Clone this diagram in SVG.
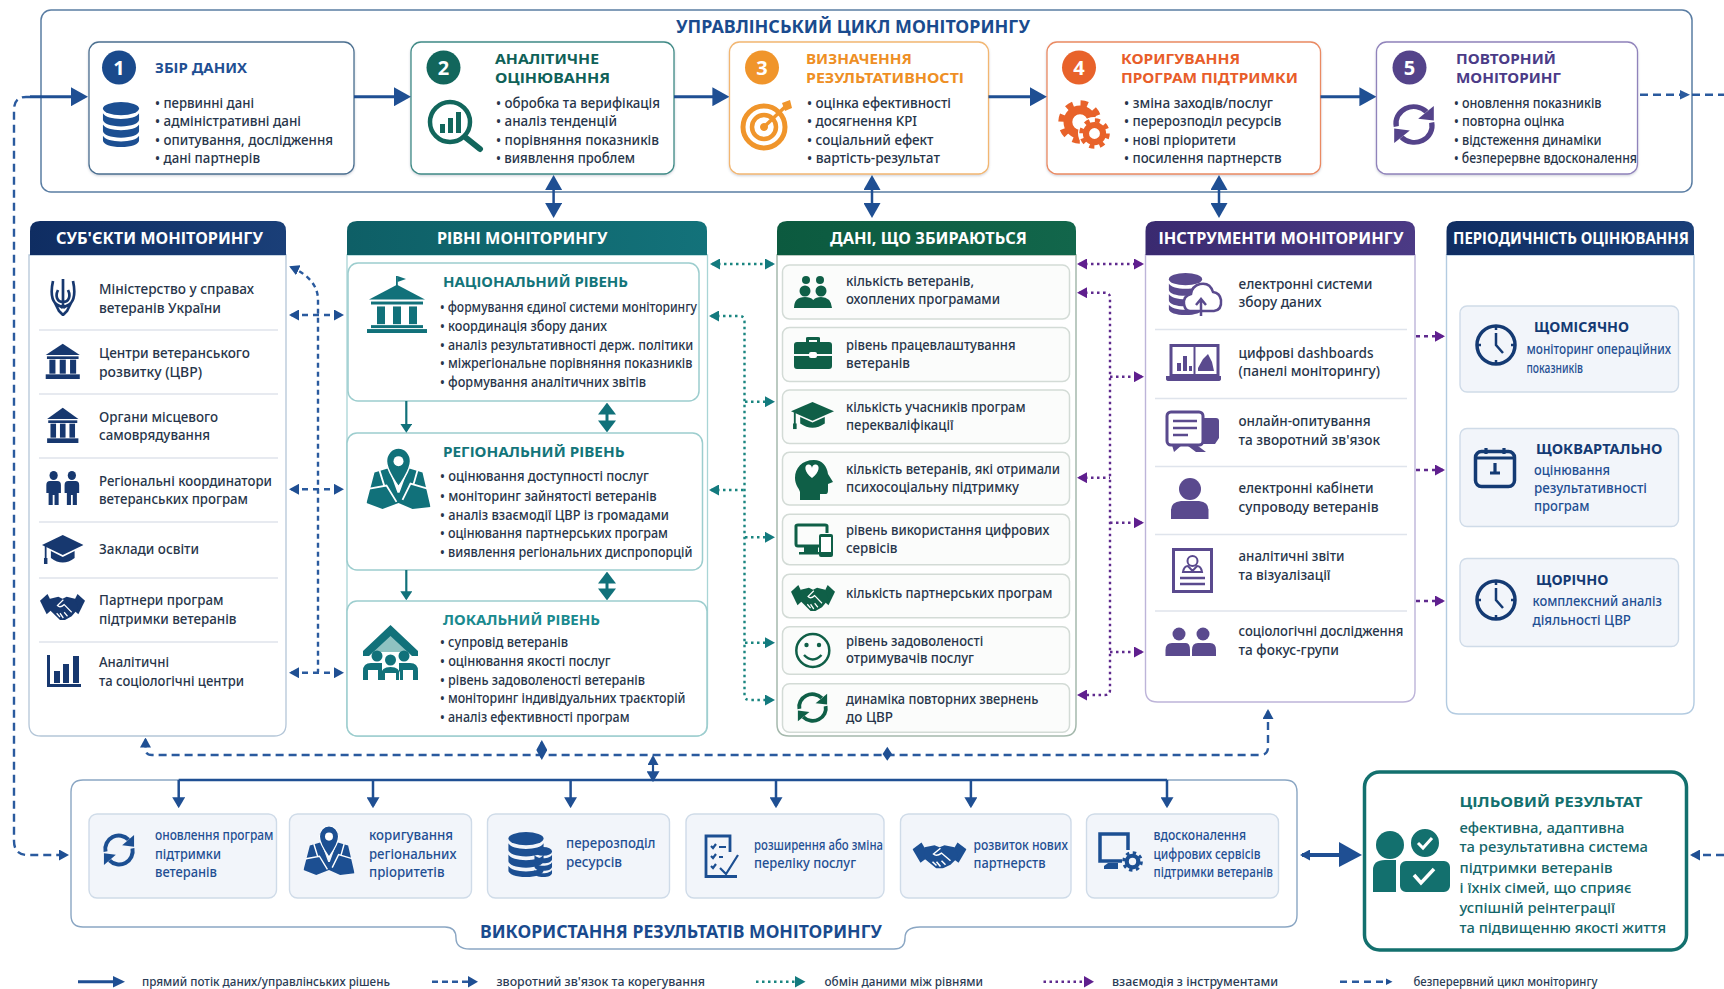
<svg xmlns="http://www.w3.org/2000/svg" width="1724" height="989" viewBox="0 0 1724 989">
<style>
text{font-family:"Noto Sans","Open Sans","DejaVu Sans",sans-serif;font-size:13.5px;font-weight:500;fill:#27354a}
.h{font-size:16px;font-weight:700;fill:#fff}
.st{font-size:15px;font-weight:700}
.n{font-size:20px;font-weight:700;fill:#fff;text-anchor:middle}
.bl{font-size:13.5px;fill:#1f4f93}
.lg{font-size:12px;fill:#2b3c55}
.tt{font-size:17px;font-weight:700;fill:#1a4b8e}
.box{fill:#fff;stroke-width:1.3}
.card{fill:#f2f5fa;stroke:#cfdbe8;stroke-width:1.4}
.gc{fill:#fbfcfb;stroke:#d3dbd6;stroke-width:1.5}
.div{stroke:#dfe4ec;stroke-width:1.5;fill:none}
.main{stroke:#1f4f93;stroke-width:3;fill:none;marker-end:url(#mMain)}
.dbl{stroke:#1f4f93;stroke-width:2.5;fill:none;marker-start:url(#mV);marker-end:url(#mV)}
.dash{stroke:#2a5a9e;stroke-width:2.4;fill:none;stroke-dasharray:8 5}
.teal{stroke:#1a8580;stroke-width:2.4;fill:none;stroke-dasharray:2.5 3.5}
.pur{stroke:#5f2a8e;stroke-width:2.4;fill:none;stroke-dasharray:2.5 3.5}
.tl{stroke:#11717a;stroke-width:2.2;fill:none}
</style>
<defs>
<linearGradient id="gA" x1="0" y1="0" x2="1" y2="0"><stop offset="0" stop-color="#0f2d62"/><stop offset="1" stop-color="#1a3f78"/></linearGradient>
<linearGradient id="gB" x1="0" y1="0" x2="1" y2="0"><stop offset="0" stop-color="#0e5f66"/><stop offset="1" stop-color="#13727a"/></linearGradient>
<linearGradient id="gC" x1="0" y1="0" x2="1" y2="0"><stop offset="0" stop-color="#0c5a3f"/><stop offset="1" stop-color="#12664b"/></linearGradient>
<linearGradient id="gD" x1="0" y1="0" x2="1" y2="0"><stop offset="0" stop-color="#3a2a70"/><stop offset="1" stop-color="#4b3a85"/></linearGradient>
<filter id="sh" x="-5%" y="-5%" width="110%" height="112%"><feDropShadow dx="0" dy="1.2" stdDeviation="1.2" flood-color="#51607a" flood-opacity=".28"/></filter>
<marker id="mMain" viewBox="0 0 10 10" markerUnits="userSpaceOnUse" markerWidth="17" markerHeight="19" refX="8" refY="5" orient="auto-start-reverse" preserveAspectRatio="none"><path d="M0 0L10 5L0 10z" fill="#1f4f93"/></marker>
<marker id="mV" viewBox="0 0 10 10" markerUnits="userSpaceOnUse" markerWidth="15" markerHeight="17" refX="8" refY="5" orient="auto-start-reverse" preserveAspectRatio="none"><path d="M0 0L10 5L0 10z" fill="#1f4f93"/></marker>
<marker id="mT" viewBox="0 0 10 10" markerUnits="userSpaceOnUse" markerWidth="11" markerHeight="13" refX="8" refY="5" orient="auto-start-reverse" preserveAspectRatio="none"><path d="M0 0L10 5L0 10z" fill="#1f4f93"/></marker>
<marker id="mD" viewBox="0 0 10 10" markerUnits="userSpaceOnUse" markerWidth="10" markerHeight="11" refX="8" refY="5" orient="auto-start-reverse" preserveAspectRatio="none"><path d="M0 0L10 5L0 10z" fill="#1f4f93"/></marker>
<marker id="mTe" viewBox="0 0 10 10" markerUnits="userSpaceOnUse" markerWidth="10" markerHeight="11" refX="8" refY="5" orient="auto-start-reverse" preserveAspectRatio="none"><path d="M0 0L10 5L0 10z" fill="#137a7e"/></marker>
<marker id="mP" viewBox="0 0 10 10" markerUnits="userSpaceOnUse" markerWidth="10" markerHeight="11" refX="8" refY="5" orient="auto-start-reverse" preserveAspectRatio="none"><path d="M0 0L10 5L0 10z" fill="#5f1f8e"/></marker>
<marker id="mTl" viewBox="0 0 10 10" markerUnits="userSpaceOnUse" markerWidth="9" markerHeight="12" refX="8" refY="5" orient="auto-start-reverse" preserveAspectRatio="none"><path d="M0 0L10 5L0 10z" fill="#11717a"/></marker>
<marker id="mTb" viewBox="0 0 10 10" markerUnits="userSpaceOnUse" markerWidth="12" markerHeight="18" refX="8" refY="5" orient="auto-start-reverse" preserveAspectRatio="none"><path d="M0 0L10 5L0 10z" fill="#11717a"/></marker>

<symbol id="db" viewBox="0 0 40 48" preserveAspectRatio="none"><g fill="currentColor"><ellipse cx="20" cy="7" rx="19" ry="7"/><path d="M1 12c2 4 10 6 19 6s17-2 19-6v7c0 4-8 7-19 7S1 23 1 19z"/><path d="M1 24c2 4 10 6 19 6s17-2 19-6v7c0 4-8 7-19 7S1 35 1 31z"/><path d="M1 36c2 4 10 6 19 6s17-2 19-6v5c0 4-8 7-19 7S1 45 1 41z"/></g></symbol>
<symbol id="cycle" viewBox="0 0 48 48" preserveAspectRatio="none"><path d="M7 26A17 17 0 0 1 36 11" fill="none" stroke="currentColor" stroke-width="5"/><polygon points="43,5 43,20 28,18" fill="currentColor"/><path d="M41 22A17 17 0 0 1 12 37" fill="none" stroke="currentColor" stroke-width="5"/><polygon points="5,43 5,28 20,30" fill="currentColor"/></symbol>
<symbol id="bank" viewBox="0 0 60 58" preserveAspectRatio="none"><g fill="currentColor"><rect x="29" y="0" width="1.8" height="11"/><polygon points="30.5,0 39,3 30.5,6"/><polygon points="30,9 58,24 2,24"/><rect x="4" y="26" width="52" height="3"/><rect x="10" y="31" width="8" height="18"/><rect x="26" y="31" width="8" height="18"/><rect x="42" y="31" width="8" height="18"/><rect x="4" y="50" width="52" height="3"/><rect x="0" y="54" width="60" height="4"/></g></symbol>
<symbol id="bank0" viewBox="0 4 60 54" preserveAspectRatio="none"><g fill="currentColor"><polygon points="30,5 58,22 2,22"/><rect x="4" y="24" width="52" height="4"/><rect x="8" y="29" width="10" height="21"/><rect x="25" y="29" width="10" height="21"/><rect x="42" y="29" width="10" height="21"/><rect x="2" y="51" width="56" height="7"/></g></symbol>
<symbol id="trident" viewBox="0 0 26 38" preserveAspectRatio="none"><g fill="none" stroke="currentColor" stroke-width="2.700"><path d="M13 1V30M3 3C1 12 1 20 5 25C8 28 11 28 13 30M23 3C25 12 25 20 21 25C18 28 15 28 13 30M8 12C5 18 7 24 13 24M18 12C21 18 19 24 13 24M5 25L9 33L13 37L17 33L21 25"/></g></symbol>
<symbol id="men" viewBox="0 0 40 34" preserveAspectRatio="none"><g fill="currentColor"><circle cx="10" cy="4.5" r="4.5"/><circle cx="30" cy="4.5" r="4.5"/><path d="M2 22V14Q2 10 6 10H14Q18 10 18 14V22H15.5V34H11V24H9V34H4.5V22z"/><path d="M22 22V14Q22 10 26 10H34Q38 10 38 14V22H35.500V34H31V24H29V34H24.500V22z"/></g></symbol>
<symbol id="cap" viewBox="0 0 42 30" preserveAspectRatio="none"><g fill="currentColor"><polygon points="21,0 42,10 21,20 0,10"/><path d="M9 16L21 22L33 16V23Q21 32 9 23z"/><rect x="2.800" y="11" width="1.800" height="13"/><rect x="2" y="23" width="3.500" height="6"/></g></symbol>
<symbol id="hands" viewBox="0 0 54 28" preserveAspectRatio="none"><g fill="currentColor"><polygon points="0,8 9,1 17,15 8,22"/><polygon points="54,8 45,1 37,15 46,22"/><path d="M12 6L22 4L27 6L32 4L42 6L46 16L38 24L30 28L24 28L12 18z"/></g><path d="M28 7L21 13Q24 16 29 12L38 20M24 25l-4-4M28 26l-4-5M33 24l-4-4" fill="none" stroke="#fff" stroke-width="1.500"/></symbol>
<symbol id="map" viewBox="0 0 64 60" preserveAspectRatio="none"><path d="M8 24L22 20L31 44H33L42 20L56 24L64 58L46 60L32 54L16 60L0 54z" fill="currentColor"/><path d="M3 40L20 37L30 53M61 40L44 35L36 51M13 22L18 38M51 22L47 36" fill="none" stroke="#fff" stroke-width="1.800"/><path d="M32 0C25 0 20 6 20 13C20 22 32 38 32 38C32 38 44 22 44 13C44 6 39 0 32 0z" fill="currentColor" stroke="#fff" stroke-width="1.500"/><circle cx="32" cy="13" r="5" fill="#fff"/></symbol>
<symbol id="gear" viewBox="0 0 40 40" preserveAspectRatio="none"><circle cx="20" cy="20" r="11" fill="none" stroke="currentColor" stroke-width="8"/><circle cx="20" cy="20" r="17" fill="none" stroke="currentColor" stroke-width="5.500" stroke-dasharray="6.500 6.850"/></symbol>
<symbol id="clock" viewBox="0 0 42 42" preserveAspectRatio="none"><circle cx="21" cy="21" r="19" fill="none" stroke="currentColor" stroke-width="3.500"/><path d="M21 9V21L28 29M21 2V6M21 36V40M2 21H6M36 21H40" fill="none" stroke="currentColor" stroke-width="2.500"/></symbol>
</defs>

<rect width="1724" height="989" fill="#fff"/>

<g id="cycle-frame">
<rect x="41" y="10" width="1651" height="182" rx="10" fill="#fff" stroke="#5a7da3" stroke-width="1.500"/>
<text class="tt" x="676" y="33" textLength="354" lengthAdjust="spacingAndGlyphs">УПРАВЛІНСЬКИЙ ЦИКЛ МОНІТОРИНГУ</text>
</g>

<g id="step-1">
<rect class="box" x="89" y="42" width="265" height="132" rx="10" stroke="#4b6f90" filter="url(#sh)"/>
<circle cx="119" cy="67.500" r="17" fill="#1a4a8c"/><text class="n" x="119" y="74.500">1</text>
<text class="st" x="155" y="72.500" style="fill:#1f4f93" textLength="92" lengthAdjust="spacingAndGlyphs">ЗБІР ДАНИХ</text>
<use href="#db" x="102" y="102" width="38" height="45" color="#1c4f92"/>
<text x="155" y="107.500" textLength="99" lengthAdjust="spacingAndGlyphs">• первинні дані</text>
<text x="155" y="126" textLength="146" lengthAdjust="spacingAndGlyphs">• адміністративні дані</text>
<text x="155" y="144.500" textLength="178" lengthAdjust="spacingAndGlyphs">• опитування, дослідження</text>
<text x="155" y="163" textLength="105" lengthAdjust="spacingAndGlyphs">• дані партнерів</text>
</g>

<g id="step-2">
<rect class="box" x="411" y="42" width="263" height="132" rx="10" stroke="#3f8a86" filter="url(#sh)"/>
<circle cx="443.500" cy="67.500" r="17" fill="#12665c"/><text class="n" x="443.500" y="74.500">2</text>
<text class="st" x="495" y="64" style="fill:#0f6158" textLength="104" lengthAdjust="spacingAndGlyphs">АНАЛІТИЧНЕ</text>
<text class="st" x="495" y="82.500" style="fill:#0f6158" textLength="115" lengthAdjust="spacingAndGlyphs">ОЦІНЮВАННЯ</text>
<g fill="#12665c"><circle cx="450" cy="122" r="20" fill="none" stroke="#12665c" stroke-width="4.500"/><rect x="440" y="124" width="5" height="9"/><rect x="448" y="118" width="5" height="15"/><rect x="456" y="112" width="5" height="21"/><path d="M465 137L480 149" stroke="#12665c" stroke-width="6" stroke-linecap="round"/></g>
<text x="496" y="107.500" textLength="164" lengthAdjust="spacingAndGlyphs">• обробка та верифікація</text>
<text x="496" y="126" textLength="121" lengthAdjust="spacingAndGlyphs">• аналіз тенденцій</text>
<text x="496" y="144.500" textLength="163" lengthAdjust="spacingAndGlyphs">• порівняння показників</text>
<text x="496" y="163" textLength="139" lengthAdjust="spacingAndGlyphs">• виявлення проблем</text>
</g>

<g id="step-3">
<rect class="box" x="729.500" y="42" width="259" height="132" rx="10" stroke="#f2b671" filter="url(#sh)"/>
<circle cx="762" cy="67.500" r="17" fill="#f0952b"/><text class="n" x="762" y="74.500">3</text>
<text class="st" x="806" y="64" style="fill:#ee8f25" textLength="106" lengthAdjust="spacingAndGlyphs">ВИЗНАЧЕННЯ</text>
<text class="st" x="806" y="82.500" style="fill:#ee8f25" textLength="158" lengthAdjust="spacingAndGlyphs">РЕЗУЛЬТАТИВНОСТІ</text>
<g fill="none" stroke="#f0952b"><circle cx="764" cy="127" r="21" stroke-width="5"/><circle cx="764" cy="127" r="12" stroke-width="4.500"/><circle cx="764" cy="127" r="3.500" fill="#f0952b"/><path d="M765 126L786 106" stroke-width="3.500"/></g><polygon points="782,103 790,100 792,108 785,111" fill="#f0952b"/>
<text x="807" y="107.500" textLength="144" lengthAdjust="spacingAndGlyphs">• оцінка ефективності</text>
<text x="807" y="126" textLength="110" lengthAdjust="spacingAndGlyphs">• досягнення KPI</text>
<text x="807" y="144.500" textLength="126.500" lengthAdjust="spacingAndGlyphs">• соціальний ефект</text>
<text x="807" y="163" textLength="133" lengthAdjust="spacingAndGlyphs">• вартість-результат</text>
</g>

<g id="step-4">
<rect class="box" x="1047" y="42" width="273.500" height="132" rx="10" stroke="#ea8a62" filter="url(#sh)"/>
<circle cx="1079" cy="67.500" r="17" fill="#e8622a"/><text class="n" x="1079" y="74.500">4</text>
<text class="st" x="1121" y="64" style="fill:#e85d2a" textLength="119" lengthAdjust="spacingAndGlyphs">КОРИГУВАННЯ</text>
<text class="st" x="1121" y="82.500" style="fill:#e85d2a" textLength="177" lengthAdjust="spacingAndGlyphs">ПРОГРАМ ПІДТРИМКИ</text>
<use href="#gear" x="1058" y="100" width="44" height="44" color="#e8622a"/>
<circle cx="1094" cy="133" r="16" fill="#fff"/>
<use href="#gear" x="1079" y="118" width="31" height="31" color="#e8622a"/>
<text x="1124" y="107.500" textLength="149" lengthAdjust="spacingAndGlyphs">• зміна заходів/послуг</text>
<text x="1124" y="126" textLength="157.500" lengthAdjust="spacingAndGlyphs">• перерозподіл ресурсів</text>
<text x="1124" y="144.500" textLength="112" lengthAdjust="spacingAndGlyphs">• нові пріоритети</text>
<text x="1124" y="163" textLength="157.500" lengthAdjust="spacingAndGlyphs">• посилення партнерств</text>
</g>

<g id="step-5">
<rect class="box" x="1376.500" y="42" width="261" height="132" rx="10" stroke="#9083bb" filter="url(#sh)"/>
<circle cx="1409.500" cy="67.500" r="17" fill="#54438a"/><text class="n" x="1409.500" y="74.500">5</text>
<text class="st" x="1456" y="64" style="fill:#4b3b87" textLength="100" lengthAdjust="spacingAndGlyphs">ПОВТОРНИЙ</text>
<text class="st" x="1456" y="82.500" style="fill:#4b3b87" textLength="105" lengthAdjust="spacingAndGlyphs">МОНІТОРИНГ</text>
<use href="#cycle" x="1389" y="101" width="50" height="47" color="#54438a"/>
<text x="1454" y="107.500" textLength="147.500" lengthAdjust="spacingAndGlyphs">• оновлення показників</text>
<text x="1454" y="126" textLength="110.500" lengthAdjust="spacingAndGlyphs">• повторна оцінка</text>
<text x="1454" y="144.500" textLength="147.500" lengthAdjust="spacingAndGlyphs">• відстеження динаміки</text>
<text x="1454" y="163" textLength="183" lengthAdjust="spacingAndGlyphs">• безперервне вдосконалення</text>
</g>

<g id="panel-subjects">
<path d="M29 255H286V724Q286 736 274 736H41Q29 736 29 724z" fill="#fff" stroke="#b4c6d8" stroke-width="1.300"/>
<path d="M30 255V231Q30 221 40 221H276Q286 221 286 231V255z" fill="url(#gA)"/>
<text class="h" x="56" y="244" textLength="207" lengthAdjust="spacingAndGlyphs">СУБ'ЄКТИ МОНІТОРИНГУ</text>
<path class="div" d="M39 330H278M39 394H278M39 458H278M39 522H278M39 578H278M39 642H278"/>
<use href="#trident" x="50" y="278" width="26" height="38" color="#17386f"/>
<use href="#bank0" x="44.500" y="343" width="36.500" height="36" color="#17386f"/>
<use href="#bank0" x="46" y="407" width="33.500" height="36" color="#17386f"/>
<use href="#men" x="44.500" y="471" width="36.500" height="34" color="#17386f"/>
<use href="#cap" x="42" y="535" width="41.500" height="30" color="#17386f"/>
<use href="#hands" x="40" y="593" width="45" height="27" color="#17386f"/>
<g fill="#17386f"><rect x="47" y="655" width="3" height="32"/><rect x="47" y="684" width="34" height="3"/><rect x="54" y="671" width="6" height="12"/><rect x="63" y="664" width="6" height="19"/><rect x="73" y="656" width="6" height="27"/></g>
<text x="99" y="294" textLength="155" lengthAdjust="spacingAndGlyphs">Міністерство у справах</text>
<text x="99" y="313" textLength="122" lengthAdjust="spacingAndGlyphs">ветеранів України</text>
<text x="99" y="358" textLength="151" lengthAdjust="spacingAndGlyphs">Центри ветеранського</text>
<text x="99" y="377" textLength="103" lengthAdjust="spacingAndGlyphs">розвитку (ЦВР)</text>
<text x="99" y="422" textLength="119" lengthAdjust="spacingAndGlyphs">Органи місцевого</text>
<text x="99" y="440" textLength="111" lengthAdjust="spacingAndGlyphs">самоврядування</text>
<text x="99" y="486" textLength="173" lengthAdjust="spacingAndGlyphs">Регіональні координатори</text>
<text x="99" y="504" textLength="149" lengthAdjust="spacingAndGlyphs">ветеранських програм</text>
<text x="99" y="554" textLength="100" lengthAdjust="spacingAndGlyphs">Заклади освіти</text>
<text x="99" y="605" textLength="124.500" lengthAdjust="spacingAndGlyphs">Партнери програм</text>
<text x="99" y="623.500" textLength="137.500" lengthAdjust="spacingAndGlyphs">підтримки ветеранів</text>
<text x="99" y="667" textLength="70" lengthAdjust="spacingAndGlyphs">Аналітичні</text>
<text x="99" y="686" textLength="145" lengthAdjust="spacingAndGlyphs">та соціологічні центри</text>
</g>

<g id="panel-levels">
<path d="M347 255H707.500V724Q707.500 736 695 736H359Q347 736 347 724z" fill="#fff" stroke="#a9d5d6" stroke-width="1.300"/>
<path d="M347 255V231Q347 221 357 221H697Q707 221 707 231V255z" fill="url(#gB)"/>
<text class="h" x="437" y="244" textLength="170.500" lengthAdjust="spacingAndGlyphs">РІВНІ МОНІТОРИНГУ</text>
<g id="level-national">
<rect x="348" y="263" width="351" height="138" rx="10" fill="#fff" stroke="#9ccdce" stroke-width="1.500"/>
<use href="#bank" x="367" y="276" width="60" height="57" color="#11717a"/>
<text class="st" x="443" y="287" style="fill:#13757a" textLength="185" lengthAdjust="spacingAndGlyphs">НАЦІОНАЛЬНИЙ РІВЕНЬ</text>
<text x="440" y="311.500" textLength="257" lengthAdjust="spacingAndGlyphs">• формування єдиної системи моніторингу</text>
<text x="440" y="331" textLength="167" lengthAdjust="spacingAndGlyphs">• координація збору даних</text>
<text x="440" y="349.500" textLength="253.300" lengthAdjust="spacingAndGlyphs">• аналіз результативності держ. політики</text>
<text x="440" y="368" textLength="252.400" lengthAdjust="spacingAndGlyphs">• міжрегіональне порівняння показників</text>
<text x="440" y="387" textLength="206" lengthAdjust="spacingAndGlyphs">• формування аналітичних звітів</text>
</g>
<g id="level-regional">
<rect x="347" y="433" width="355.500" height="137" rx="10" fill="#fff" stroke="#9ccdce" stroke-width="1.500"/>
<use href="#map" x="366.500" y="448" width="64" height="61" color="#11717a"/>
<text class="st" x="443" y="456.500" style="fill:#13757a" textLength="181.500" lengthAdjust="spacingAndGlyphs">РЕГІОНАЛЬНИЙ РІВЕНЬ</text>
<text x="440" y="481" textLength="208.800" lengthAdjust="spacingAndGlyphs">• оцінювання доступності послуг</text>
<text x="440" y="500.500" textLength="216.600" lengthAdjust="spacingAndGlyphs">• моніторинг зайнятості ветеранів</text>
<text x="440" y="519.500" textLength="229" lengthAdjust="spacingAndGlyphs">• аналіз взаємодії ЦВР із громадами</text>
<text x="440" y="538" textLength="228" lengthAdjust="spacingAndGlyphs">• оцінювання партнерських програм</text>
<text x="440" y="557" textLength="252.400" lengthAdjust="spacingAndGlyphs">• виявлення регіональних диспропорцій</text>
</g>
<g id="level-local">
<rect x="347" y="601" width="360" height="135" rx="10" fill="#fff" stroke="#9ccdce" stroke-width="1.500"/>
<g fill="#11717a"><path d="M368 652L390.500 633L413 652V652H368z" fill="#8fc2c1"/><path d="M363 651L390.500 625L418 651V656H412L390.500 636L369 656H363z"/><circle cx="377" cy="656" r="5.500"/><circle cx="404" cy="656" r="5.500"/><circle cx="390.500" cy="660" r="5.500"/><path d="M363 680V671Q363 663 371 663H382V680H378V670H368V680zM418 680V671Q418 663 410 663H399V680H403V670H413V680zM381 680V675Q381 667 390.500 667T400 675V680H396V673H385V680z"/></g>
<text class="st" x="443" y="624.500" style="fill:#1a8a8f" textLength="157" lengthAdjust="spacingAndGlyphs">ЛОКАЛЬНИЙ РІВЕНЬ</text>
<text x="440" y="647" textLength="128" lengthAdjust="spacingAndGlyphs">• супровід ветеранів</text>
<text x="440" y="666" textLength="170.600" lengthAdjust="spacingAndGlyphs">• оцінювання якості послуг</text>
<text x="440" y="684.500" textLength="205" lengthAdjust="spacingAndGlyphs">• рівень задоволеності ветеранів</text>
<text x="440" y="703" textLength="245.500" lengthAdjust="spacingAndGlyphs">• моніторинг індивідуальних траєкторій</text>
<text x="440" y="721.500" textLength="189.500" lengthAdjust="spacingAndGlyphs">• аналіз ефективності програм</text>
</g>
</g>

<g id="panel-data">
<path d="M777 255H1076V724Q1076 736 1064 736H789Q777 736 777 724z" fill="#fff" stroke="#a5b9ad" stroke-width="1.500"/>
<path d="M777 255V231Q777 221 787 221H1066Q1076 221 1076 231V255z" fill="url(#gC)"/>
<text class="h" x="830" y="244" textLength="197" lengthAdjust="spacingAndGlyphs">ДАНІ, ЩО ЗБИРАЮТЬСЯ</text>
<g id="data-cards">
<rect class="gc" x="782.500" y="265" width="287" height="54" rx="7"/>
<rect class="gc" x="782.500" y="327.500" width="287" height="54" rx="7"/>
<rect class="gc" x="782.500" y="390" width="287" height="53.500" rx="7"/>
<rect class="gc" x="782.500" y="452.300" width="287" height="52.700" rx="7"/>
<rect class="gc" x="782.500" y="514.300" width="287" height="50.400" rx="7"/>
<rect class="gc" x="782.500" y="574.300" width="287" height="43.400" rx="7"/>
<rect class="gc" x="782.500" y="626.700" width="287" height="47.600" rx="7"/>
<rect class="gc" x="782.500" y="683.700" width="287" height="48.600" rx="7"/>
</g>
<g fill="#0f5f47">
<circle cx="806" cy="280" r="4"/><circle cx="820" cy="280" r="4"/><circle cx="805" cy="291" r="5.500"/><circle cx="821" cy="291" r="5.500"/><path d="M794 308Q794 297 805 297T815 308zM811 308Q811 297 821 297T832 308z"/>
<path d="M806 342V338Q806 337 808 337H818Q820 337 820 338V342H817V340H809V342zM794 345Q794 342 797 342H829Q832 342 832 345V354H794zM794 356H832V366Q832 369 829 369H797Q794 369 794 366z"/><rect x="809" y="352" width="8" height="6" rx="2" fill="#fff"/>
</g>
<use href="#cap" x="791" y="402" width="43" height="28" color="#0f5f47"/>
<g fill="#0f5f47"><path d="M814 460C802 460 795 468 795 478C795 485 799 488 800 492V500H820V494H826Q828 494 828 490V484L833 482L828 474C827 466 822 460 814 460z"/><path d="M812 478C804 472 804 465 808 464.500C810 464 812 466 812 468C812 466 814 464 816 464.500C820 465 820 472 812 478z" fill="#fff"/></g>
<g fill="none" stroke="#0f5f47" stroke-width="3"><path d="M820 546H798Q796 546 796 544V526Q796 525 798 525H825Q827 525 827 526V533"/></g><g fill="#0f5f47"><rect x="804" y="547" width="14" height="6"/><rect x="799" y="552" width="22" height="2.500"/><rect x="819" y="534" width="14" height="23" rx="2"/><rect x="821" y="537" width="10" height="15" fill="#fff"/></g>
<use href="#hands" x="791" y="584" width="44" height="27" color="#0f5f47"/>
<circle cx="812.800" cy="650.500" r="16.500" fill="none" stroke="#0f5f47" stroke-width="2.500"/><circle cx="806.500" cy="645" r="2.200" fill="#0f5f47"/><circle cx="819" cy="645" r="2.200" fill="#0f5f47"/><path d="M804 655Q812.800 664 821.500 655" fill="none" stroke="#0f5f47" stroke-width="2.500"/>
<use href="#cycle" x="794" y="690" width="37" height="35" color="#0f5f47"/>
<text x="846" y="286" textLength="128" lengthAdjust="spacingAndGlyphs">кількість ветеранів,</text>
<text x="846" y="304" textLength="154" lengthAdjust="spacingAndGlyphs">охоплених програмами</text>
<text x="846" y="350" textLength="169.500" lengthAdjust="spacingAndGlyphs">рівень працевлаштування</text>
<text x="846" y="368" textLength="64" lengthAdjust="spacingAndGlyphs">ветеранів</text>
<text x="846" y="412" textLength="179.500" lengthAdjust="spacingAndGlyphs">кількість учасників програм</text>
<text x="846" y="430" textLength="107.500" lengthAdjust="spacingAndGlyphs">перекваліфікації</text>
<text x="846" y="474" textLength="214" lengthAdjust="spacingAndGlyphs">кількість ветеранів, які отримали</text>
<text x="846" y="492" textLength="173" lengthAdjust="spacingAndGlyphs">психосоціальну підтримку</text>
<text x="846" y="535" textLength="203.500" lengthAdjust="spacingAndGlyphs">рівень використання цифрових</text>
<text x="846" y="553" textLength="51.500" lengthAdjust="spacingAndGlyphs">сервісів</text>
<text x="846" y="598" textLength="206.500" lengthAdjust="spacingAndGlyphs">кількість партнерських програм</text>
<text x="846" y="646" textLength="137.300" lengthAdjust="spacingAndGlyphs">рівень задоволеності</text>
<text x="846" y="663" textLength="128" lengthAdjust="spacingAndGlyphs">отримувачів послуг</text>
<text x="846" y="704" textLength="192.500" lengthAdjust="spacingAndGlyphs">динаміка повторних звернень</text>
<text x="846" y="721.500" textLength="47" lengthAdjust="spacingAndGlyphs">до ЦВР</text>
</g>

<g id="panel-tools">
<path d="M1145.500 255H1415V690Q1415 702 1403 702H1157.500Q1145.500 702 1145.500 690z" fill="#fff" stroke="#bdb4d9" stroke-width="1.400"/>
<path d="M1145.500 255V231Q1145.500 221 1155.500 221H1405Q1415 221 1415 231V255z" fill="url(#gD)"/>
<text class="h" x="1158.500" y="244" textLength="245" lengthAdjust="spacingAndGlyphs">ІНСТРУМЕНТИ МОНІТОРИНГУ</text>
<path class="div" d="M1155 329.500H1407M1155 398.500H1407M1155 466.500H1407M1155 534.500H1407M1155 611H1407"/>
<g color="#5a4a8e">
<use href="#db" x="1168" y="273" width="35" height="42"/>
<path d="M1190 311H1214Q1222 310 1221 300Q1220 293 1213 292Q1210 282 1200 284Q1192 286 1191 294Q1183 296 1184 304Q1185 311 1190 311z" fill="#fff" stroke="#5a4a8e" stroke-width="2.500"/><path d="M1201 316V300M1196 305L1201 299L1206 305" fill="none" stroke="#5a4a8e" stroke-width="2.500"/>
<rect x="1171" y="345.500" width="47" height="30" fill="#fff" stroke="#5a4a8e" stroke-width="3"/><path d="M1194.500 345V376" stroke="#5a4a8e" stroke-width="2"/><path d="M1166 376H1221V379Q1221 381 1218 381H1169Q1166 381 1166 379z" fill="#5a4a8e"/><path d="M1177 371V363H1181V371zM1183 371V356H1187V371zM1189 371V366H1192V371zM1198 371V368L1203 359L1208 354L1212 362L1214 371z" fill="#5a4a8e"/>
<rect x="1167" y="412" width="36" height="33" rx="4" fill="#fff" stroke="#5a4a8e" stroke-width="3"/><path d="M1203 418H1216Q1219 418 1219 421V438L1215 444H1203z" fill="#5a4a8e"/><path d="M1172 445L1174 452L1182 445zM1188 446H1198L1206 452H1196z" fill="#5a4a8e"/><path d="M1173 421H1197M1173 428H1197M1173 435H1188" stroke="#5a4a8e" stroke-width="2.500" fill="none"/>
<circle cx="1190" cy="489" r="11" fill="#5a4a8e"/><path d="M1171 519V510Q1171 502 1181 501H1199Q1208.500 502 1208.500 510V519z" fill="#5a4a8e"/>
<rect x="1173.500" y="549.500" width="38" height="42" fill="#fff" stroke="#5a4a8e" stroke-width="3"/><circle cx="1192.500" cy="561" r="5" fill="none" stroke="#5a4a8e" stroke-width="2"/><path d="M1183 572Q1184 566 1188 566L1192.500 571L1197 566Q1201 566 1202 572z" fill="none" stroke="#5a4a8e" stroke-width="2"/><path d="M1180 578H1205M1180 584H1205" stroke="#5a4a8e" stroke-width="2.500"/>
<circle cx="1179" cy="634" r="6.500" fill="#5a4a8e"/><circle cx="1203" cy="634" r="6.500" fill="#5a4a8e"/><path d="M1165.500 656V650Q1165.500 643 1172 643H1186Q1190 643 1190 650V656zM1192 656V650Q1192 643 1198 643H1210Q1216 643 1216 650V656z" fill="#5a4a8e"/>
</g>
<text x="1238.500" y="288.500" textLength="134" lengthAdjust="spacingAndGlyphs">електронні системи</text>
<text x="1238.500" y="307" textLength="83" lengthAdjust="spacingAndGlyphs">збору даних</text>
<text x="1238.500" y="358" textLength="135" lengthAdjust="spacingAndGlyphs">цифрові dashboards</text>
<text x="1238.500" y="376" textLength="141.500" lengthAdjust="spacingAndGlyphs">(панелі моніторингу)</text>
<text x="1238.500" y="426" textLength="132" lengthAdjust="spacingAndGlyphs">онлайн-опитування</text>
<text x="1238.500" y="444.500" textLength="141.500" lengthAdjust="spacingAndGlyphs">та зворотний зв'язок</text>
<text x="1238.500" y="493" textLength="135" lengthAdjust="spacingAndGlyphs">електронні кабінети</text>
<text x="1238.500" y="512" textLength="140" lengthAdjust="spacingAndGlyphs">супроводу ветеранів</text>
<text x="1238.500" y="561" textLength="106" lengthAdjust="spacingAndGlyphs">аналітичні звіти</text>
<text x="1238.500" y="579.500" textLength="92" lengthAdjust="spacingAndGlyphs">та візуалізації</text>
<text x="1238.500" y="636" textLength="165" lengthAdjust="spacingAndGlyphs">соціологічні дослідження</text>
<text x="1238.500" y="654.500" textLength="100.500" lengthAdjust="spacingAndGlyphs">та фокус-групи</text>
</g>

<g id="panel-period">
<path d="M1446.500 255H1694V702Q1694 714 1682 714H1458.500Q1446.500 714 1446.500 702z" fill="#fff" stroke="#b3cbe1" stroke-width="1.400"/>
<path d="M1446.500 255V231Q1446.500 221 1456.500 221H1684Q1694 221 1694 231V255z" fill="url(#gA)"/>
<text class="h" x="1453" y="244" textLength="236" lengthAdjust="spacingAndGlyphs">ПЕРІОДИЧНІСТЬ ОЦІНЮВАННЯ</text>
<g id="period-monthly">
<rect class="card" x="1460" y="306" width="218.500" height="86" rx="7"/>
<use href="#clock" x="1475" y="324" width="42" height="42" color="#143a73"/>
<text class="st" x="1534" y="332" style="fill:#143a73" textLength="95" lengthAdjust="spacingAndGlyphs">ЩОМІСЯЧНО</text>
<text class="bl" x="1526.500" y="354" textLength="144.500" lengthAdjust="spacingAndGlyphs">моніторинг операційних</text>
<text class="bl" x="1526.500" y="372.500" textLength="56.500" lengthAdjust="spacingAndGlyphs">показників</text>
</g>
<g id="period-quarterly">
<rect class="card" x="1460" y="428.500" width="218.500" height="98" rx="7"/>
<rect x="1475.500" y="451.500" width="39" height="35" rx="6" fill="none" stroke="#143a73" stroke-width="3.500"/><path d="M1475 458H1515" stroke="#143a73" stroke-width="3"/><path d="M1486 448V454M1504 448V454M1495 463V472M1490 473H1500" stroke="#143a73" stroke-width="3.200" fill="none"/>
<text class="st" x="1536" y="454" style="fill:#143a73" textLength="126.500" lengthAdjust="spacingAndGlyphs">ЩОКВАРТАЛЬНО</text>
<text class="bl" x="1534" y="475" textLength="76" lengthAdjust="spacingAndGlyphs">оцінювання</text>
<text class="bl" x="1534" y="493" textLength="113" lengthAdjust="spacingAndGlyphs">результативності</text>
<text class="bl" x="1534" y="510.500" textLength="55.500" lengthAdjust="spacingAndGlyphs">програм</text>
</g>
<g id="period-annual">
<rect class="card" x="1460" y="558.500" width="218.500" height="88" rx="7"/>
<use href="#clock" x="1475" y="579" width="42" height="42" color="#143a73"/>
<text class="st" x="1536" y="585" style="fill:#143a73" textLength="72.500" lengthAdjust="spacingAndGlyphs">ЩОРІЧНО</text>
<text class="bl" x="1532.500" y="606" textLength="129.500" lengthAdjust="spacingAndGlyphs">комплексний аналіз</text>
<text class="bl" x="1532.500" y="624.500" textLength="98.500" lengthAdjust="spacingAndGlyphs">діяльності ЦВР</text>
</g>
</g>

<g id="panel-usage">
<path d="M83 780H1285Q1297 780 1297 792V915Q1297 927 1285 927H920Q905 927 905 938Q905 949 894 949H470Q456 949 456 938Q456 927 445 927H83Q71 927 71 915V792Q71 780 83 780z" fill="#fff" stroke="#8aa6c3" stroke-width="1.400"/>
<text class="tt" x="480" y="938" textLength="402" lengthAdjust="spacingAndGlyphs">ВИКОРИСТАННЯ РЕЗУЛЬТАТІВ МОНІТОРИНГУ</text>
<g id="use-1"><rect class="card" x="89" y="814" width="187.500" height="84" rx="8"/><use href="#cycle" x="100" y="831" width="38" height="38" color="#1c4f92"/>
<text class="bl" x="155" y="840" textLength="118.500" lengthAdjust="spacingAndGlyphs">оновлення програм</text><text class="bl" x="155" y="858.500" textLength="66" lengthAdjust="spacingAndGlyphs">підтримки</text><text class="bl" x="155" y="877" textLength="62" lengthAdjust="spacingAndGlyphs">ветеранів</text></g>
<g id="use-2"><rect class="card" x="289.500" y="814" width="182" height="84" rx="8"/><use href="#map" x="303.500" y="826" width="51" height="49" color="#1c4f92"/>
<text class="bl" x="369" y="840" textLength="84" lengthAdjust="spacingAndGlyphs">коригування</text><text class="bl" x="369" y="858.500" textLength="87.500" lengthAdjust="spacingAndGlyphs">регіональних</text><text class="bl" x="369" y="877" textLength="75.500" lengthAdjust="spacingAndGlyphs">пріоритетів</text></g>
<g id="use-3"><rect class="card" x="487.500" y="814" width="182" height="84" rx="8"/><use href="#db" x="507.500" y="832" width="37" height="45" color="#1c4f92"/><use href="#db" x="534" y="847" width="18.500" height="30" color="#1c4f92"/>
<text class="bl" x="566" y="848" textLength="89.500" lengthAdjust="spacingAndGlyphs">перерозподіл</text><text class="bl" x="566" y="867" textLength="56" lengthAdjust="spacingAndGlyphs">ресурсів</text></g>
<g id="use-4"><rect class="card" x="686" y="814" width="198" height="84" rx="8"/><path d="M706 868V836H730V852M706 868V876.500H737" fill="none" stroke="#1c4f92" stroke-width="2.800"/><path d="M711 846l2 2 3-4M719 847H726M711 856l2 2 3-4M719 857H723M711 866l2 2 3-4M720 868L726 874L738 855" fill="none" stroke="#1c4f92" stroke-width="2.200"/>
<text class="bl" x="754" y="849.500" textLength="129" lengthAdjust="spacingAndGlyphs">розширення або зміна</text><text class="bl" x="754" y="868" textLength="102" lengthAdjust="spacingAndGlyphs">переліку послуг</text></g>
<g id="use-5"><rect class="card" x="900.500" y="814" width="170.500" height="84" rx="8"/><use href="#hands" x="912.500" y="841.500" width="54" height="27" color="#1c4f92"/>
<text class="bl" x="973.500" y="849.500" textLength="94.500" lengthAdjust="spacingAndGlyphs">розвиток нових</text><text class="bl" x="973.500" y="868" textLength="72" lengthAdjust="spacingAndGlyphs">партнерств</text></g>
<g id="use-6"><rect class="card" x="1086.500" y="814" width="192" height="84" rx="8"/><path d="M1128 850V834H1100V861H1122" fill="none" stroke="#1c4f92" stroke-width="3.500"/><path d="M1108 863H1118V869H1104V866z" fill="#1c4f92"/><use href="#gear" x="1122" y="851" width="21" height="21" color="#1c4f92"/>
<text class="bl" x="1153.500" y="840" textLength="92.500" lengthAdjust="spacingAndGlyphs">вдосконалення</text><text class="bl" x="1153.500" y="858.500" textLength="107" lengthAdjust="spacingAndGlyphs">цифрових сервісів</text><text class="bl" x="1153.500" y="877" textLength="119.500" lengthAdjust="spacingAndGlyphs">підтримки ветеранів</text></g>
</g>

<g id="target-result">
<rect x="1364.500" y="772" width="322" height="178" rx="15" fill="#fff" stroke="#13706e" stroke-width="3.500"/>
<circle cx="1390" cy="845" r="14" fill="#13706e"/><path d="M1373 892V870Q1373 860 1385 860H1396V892z" fill="#13706e"/><circle cx="1425" cy="843" r="15" fill="#13706e" stroke="#fff" stroke-width="2"/><path d="M1418 843l5 5 9-10" fill="none" stroke="#fff" stroke-width="3"/><rect x="1399" y="860" width="52" height="33" rx="7" fill="#13706e" stroke="#fff" stroke-width="2"/><path d="M1414 875l7 8 13-14" fill="none" stroke="#fff" stroke-width="3.500"/>
<text class="st" x="1459.500" y="806.500" style="fill:#13706e" textLength="183" lengthAdjust="spacingAndGlyphs">ЦІЛЬОВИЙ РЕЗУЛЬТАТ</text>
<text x="1459.500" y="832.500" style="fill:#14666a;font-size:14px" textLength="165" lengthAdjust="spacingAndGlyphs">ефективна, адаптивна</text>
<text x="1459.500" y="852" style="fill:#14666a;font-size:14px" textLength="188.500" lengthAdjust="spacingAndGlyphs">та результативна система</text>
<text x="1459.500" y="872.500" style="fill:#14666a;font-size:14px" textLength="153" lengthAdjust="spacingAndGlyphs">підтримки ветеранів</text>
<text x="1459.500" y="893" style="fill:#14666a;font-size:14px" textLength="172" lengthAdjust="spacingAndGlyphs">і їхніх сімей, що сприяє</text>
<text x="1459.500" y="912.500" style="fill:#14666a;font-size:14px" textLength="155.500" lengthAdjust="spacingAndGlyphs">успішній реінтеграції</text>
<text x="1459.500" y="932.500" style="fill:#14666a;font-size:14px" textLength="206.500" lengthAdjust="spacingAndGlyphs">та підвищенню якості життя</text>
</g>

<g id="connectors">
<path class="main" d="M30 96.700H84.600"/><path class="main" d="M354 96.700H407.600"/><path class="main" d="M674 96.700H726"/><path class="main" d="M988.500 96.700H1043.500"/><path class="main" d="M1320.500 96.700H1373"/>
<path class="dash" d="M30 97H26Q14 97 14 110V841Q14 855 28 855H67" style="marker-end:url(#mD)"/>
<path class="dash" d="M1640 94.700H1724"/><polygon points="1680,90 1690,94.700 1680,99.400" fill="#2a5a9e"/>
<path class="dash" d="M1724 855H1692" style="marker-end:url(#mD)"/>
<path class="dbl" d="M553.600 178V215"/><path class="dbl" d="M872 178V215"/><path class="dbl" d="M1219 178V215"/>

<g id="conn-subjects-levels">
<path class="dash" d="M291 315H342" style="stroke-dasharray:6 5;marker-start:url(#mD);marker-end:url(#mD)"/>
<path class="dash" d="M291 489.300H342" style="stroke-dasharray:6 5;marker-start:url(#mD);marker-end:url(#mD)"/>
<path class="dash" d="M291 672.700H342" style="stroke-dasharray:6 5;marker-start:url(#mD);marker-end:url(#mD)"/>
<path class="dash" d="M291 267Q318 279 318 300V672" style="stroke-dasharray:5 4;marker-start:url(#mD)"/>
</g>

<g id="conn-levels">
<path class="tl" d="M406.300 401V431" style="marker-end:url(#mTl)"/>
<path class="tl" d="M406.300 570V598.500" style="marker-end:url(#mTl)"/>
<path class="tl" d="M607 405V430" style="stroke-width:3;marker-start:url(#mTb);marker-end:url(#mTb)"/>
<path class="tl" d="M607 574V598" style="stroke-width:3;marker-start:url(#mTb);marker-end:url(#mTb)"/>
</g>

<g id="conn-levels-data">
<path class="teal" d="M712 264H773" style="marker-start:url(#mTe);marker-end:url(#mTe)"/>
<path class="teal" d="M711 316H739Q744.500 316 744.500 321V695Q744.500 700 750 700H773" style="marker-start:url(#mTe);marker-end:url(#mTe)"/>
<path class="teal" d="M745 401.700H773" style="marker-end:url(#mTe)"/>
<path class="teal" d="M711 490H744" style="marker-start:url(#mTe)"/>
<path class="teal" d="M745 537.300H773" style="marker-end:url(#mTe)"/>
<path class="teal" d="M745 642.700H773" style="marker-end:url(#mTe)"/>
</g>

<g id="conn-data-tools">
<path class="pur" d="M1079 264H1142" style="marker-start:url(#mP);marker-end:url(#mP)"/>
<path class="pur" d="M1079 292.700H1105Q1110 292.700 1110 298V690Q1110 695 1105 695H1079" style="marker-start:url(#mP);marker-end:url(#mP)"/>
<path class="pur" d="M1079 477.700H1110" style="marker-start:url(#mP)"/>
<path class="pur" d="M1110 376.700H1142" style="marker-end:url(#mP)"/>
<path class="pur" d="M1110 522.700H1142" style="marker-end:url(#mP)"/>
<path class="pur" d="M1110 652H1142" style="marker-end:url(#mP)"/>
</g>

<g id="conn-tools-period">
<path class="pur" d="M1416 336.300H1443" style="stroke-dasharray:4 4;marker-end:url(#mP)"/>
<path class="pur" d="M1416 470H1443" style="stroke-dasharray:4 4;marker-end:url(#mP)"/>
<path class="pur" d="M1416 601H1443" style="stroke-dasharray:4 4;marker-end:url(#mP)"/>
</g>

<g id="conn-feedback">
<path class="dash" d="M145.500 739.500V749Q145.500 755 152 755H1260Q1268 755 1268 747V711" style="marker-start:url(#mD);marker-end:url(#mD)"/>
<path class="dash" d="M541.800 742V758" style="stroke-dasharray:none;marker-start:url(#mD);marker-end:url(#mD)"/>
<polygon points="887.300,746.700 892,754 887.300,760.700 882.600,754" fill="#1f4f93"/>
<path d="M653 757V780" stroke="#1f4f93" stroke-width="2.200" fill="none" style="marker-start:url(#mD);marker-end:url(#mT)"/>
</g>

<g id="conn-usage">
<path d="M178.700 780H1167" stroke="#1f4f93" stroke-width="2.600" fill="none"/>
<path d="M178.700 780V806" stroke="#1f4f93" stroke-width="2.500" style="marker-end:url(#mT)"/>
<path d="M373 780V806" stroke="#1f4f93" stroke-width="2.500" style="marker-end:url(#mT)"/>
<path d="M570.600 780V806" stroke="#1f4f93" stroke-width="2.500" style="marker-end:url(#mT)"/>
<path d="M776 780V806" stroke="#1f4f93" stroke-width="2.500" style="marker-end:url(#mT)"/>
<path d="M970.900 780V806" stroke="#1f4f93" stroke-width="2.500" style="marker-end:url(#mT)"/>
<path d="M1167 780V806" stroke="#1f4f93" stroke-width="2.500" style="marker-end:url(#mT)"/>
<polygon points="1339,842 1362,855 1339,867" fill="#1f4f93"/>
<path d="M1302 855H1342" stroke="#1f4f93" stroke-width="4" style="marker-start:url(#mD)"/>
</g>
</g>

<g id="legend">
<path d="M78 981.700H120" stroke="#1f4f93" stroke-width="3" fill="none"/><polygon points="113,976 125,981.700 113,987.400" fill="#1f4f93"/>
<text class="lg" x="142" y="986" textLength="248" lengthAdjust="spacingAndGlyphs">прямий потік даних/управлінських рішень</text>
<path class="dash" d="M432 981.700H470" style="stroke-dasharray:6 4"/><polygon points="468,976 478,981.700 468,987.400" fill="#1f4f93"/>
<text class="lg" x="496.500" y="986" textLength="208.500" lengthAdjust="spacingAndGlyphs">зворотний зв'язок та корегування</text>
<path class="teal" d="M756 981.700H797"/><polygon points="795,976 805.500,981.700 795,987.400" fill="#137a7e"/>
<text class="lg" x="824.500" y="986" textLength="158.500" lengthAdjust="spacingAndGlyphs">обмін даними між рівнями</text>
<path class="pur" d="M1043.500 981.700H1086"/><polygon points="1084,976 1094,981.700 1084,987.400" fill="#5f1f8e"/>
<text class="lg" x="1112" y="986" textLength="166" lengthAdjust="spacingAndGlyphs">взаємодія з інструментами</text>
<path class="dash" d="M1340 981.700H1387" style="stroke-dasharray:7 5"/><polygon points="1386,978.500 1392.500,981.700 1386,985" fill="#1f4f93"/>
<text class="lg" x="1413.500" y="986" textLength="184" lengthAdjust="spacingAndGlyphs">безперервний цикл моніторингу</text>
</g>
</svg>
